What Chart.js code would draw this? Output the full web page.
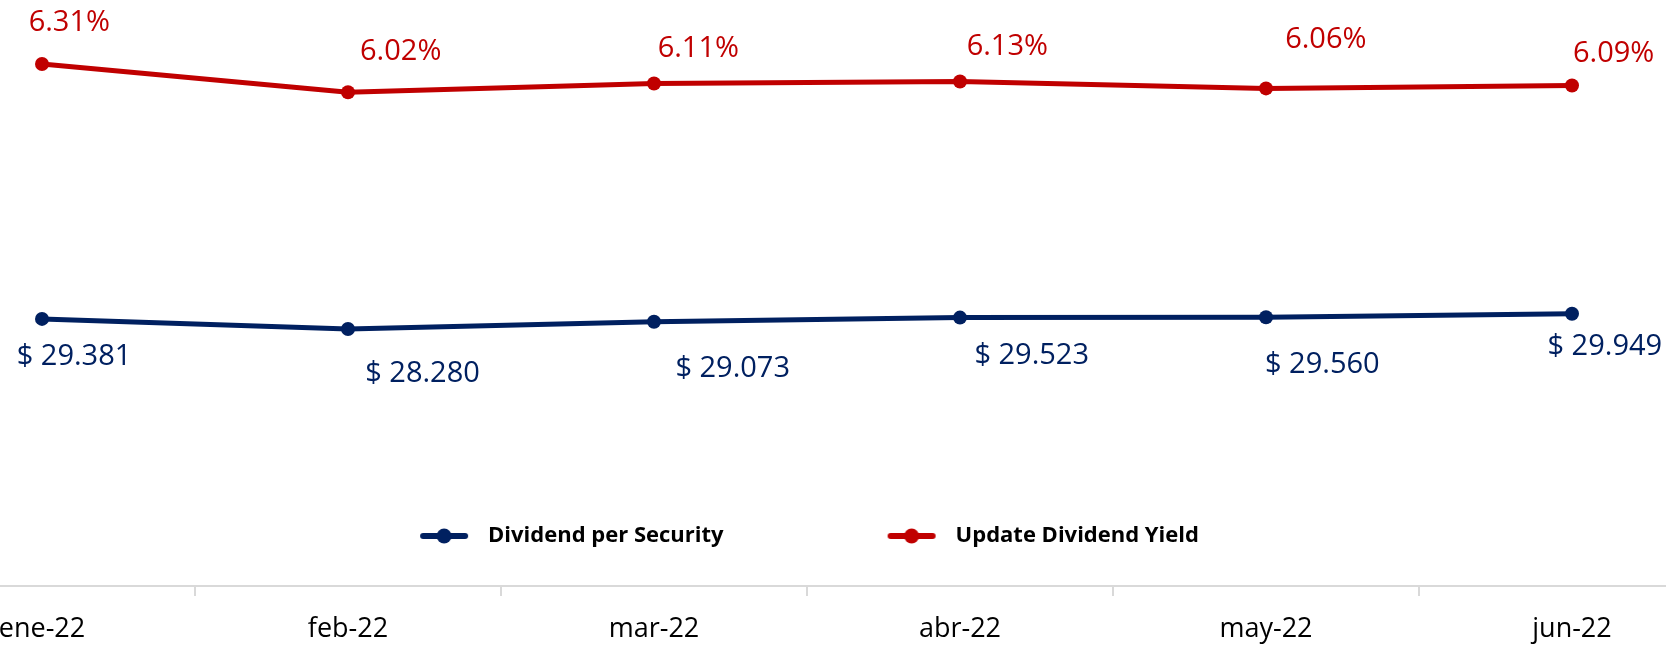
<!DOCTYPE html>
<html>
<head>
<meta charset="utf-8">
<script src="https://cdn.jsdelivr.net/npm/chart.js@4/dist/chart.umd.min.js"></script>
<style>
  html, body { margin: 0; padding: 0; background: #ffffff; overflow: hidden; width: 1666px; height: 646px; position: relative; }
  #c { position: absolute; left: -255px; top: 0; }
</style>
</head>
<body>
<canvas id="c" width="1980" height="646"></canvas>
<script>
// ---- data ----
const categories = ['ene-22', 'feb-22', 'mar-22', 'abr-22', 'may-22', 'jun-22'];
const dividendPerSecurity = [29381, 28280, 29073, 29523, 29560, 29949];
const updateDividendYield = [6.31, 6.02, 6.11, 6.13, 6.06, 6.09];
const seriesNames = ['Dividend per Security', 'Update Dividend Yield'];

// ---- styles ----
const BLUE = '#002060';
const RED = '#C00000';
const FONT = "'Open Sans', 'Noto Sans', sans-serif";
const LEGEND_BOX = 206;

function formatDividend(v) {
  return '$ ' + String(Math.round(v)).replace(/\B(?=(\d{3})+(?!\d))/g, '.');
}
function formatYield(v) {
  return v.toFixed(2) + '%';
}

function legendGlyph(color, w) {
  const c = document.createElement('canvas');
  c.width = w; c.height = 18;
  const g = c.getContext('2d');
  g.strokeStyle = color; g.lineWidth = 6; g.lineCap = 'round';
  g.beginPath(); g.moveTo(w - 54, 9); g.lineTo(w - 12, 9); g.stroke();
  g.fillStyle = color;
  g.beginPath(); g.arc(w - 33, 9, 7.5, 0, Math.PI * 2); g.fill();
  return c;
}
const legendGlyphs = [legendGlyph(BLUE, LEGEND_BOX), legendGlyph(RED, LEGEND_BOX)];

// value labels placed next to each point (offsets of label centre from the point, in px)
const pointLabels = {
  id: 'pointLabels',
  afterDatasetsDraw(chart, args, opts) {
    const ctx = chart.ctx;
    chart.data.datasets.forEach((ds, di) => {
      const meta = chart.getDatasetMeta(di);
      const cfg = opts.series[di];
      ctx.save();
      ctx.font = '29px ' + FONT;
      ctx.fillStyle = cfg.color;
      ctx.textAlign = 'center';
      ctx.textBaseline = 'alphabetic';
      meta.data.forEach((el, i) => {
        const off = cfg.offsets[i];
        ctx.fillText(cfg.format(ds.data[i]), el.x + off[0], el.y + off[1] + 10.4);
      });
      ctx.restore();
    });
  }
};

new Chart(document.getElementById('c'), {
  type: 'line',
  data: {
    labels: categories,
    datasets: [
      {
        label: seriesNames[0], data: dividendPerSecurity, yAxisID: 'y',
        borderColor: BLUE, backgroundColor: BLUE, borderWidth: 5,
        pointRadius: 7, pointHoverRadius: 7, pointBorderWidth: 0, pointBackgroundColor: BLUE,
        tension: 0, fill: false, clip: false
      },
      {
        label: seriesNames[1], data: updateDividendYield, yAxisID: 'y1',
        borderColor: RED, backgroundColor: RED, borderWidth: 5,
        pointRadius: 7, pointHoverRadius: 7, pointBorderWidth: 0, pointBackgroundColor: RED,
        tension: 0, fill: false, clip: false
      }
    ]
  },
  options: {
    responsive: false,
    animation: false,
    devicePixelRatio: 1,
    events: [],
    layout: { autoPadding: false, padding: 0 },
    scales: {
      x: {
        type: 'category', position: 'bottom', offset: true, weight: 0,
        grid: { display: true, offset: true, drawOnChartArea: false, drawTicks: true, tickLength: 10, color: '#d9d9d9', lineWidth: 2 },
        border: { display: true, color: '#d9d9d9', width: 2 },
        ticks: { color: '#000000', font: { family: FONT, size: 27, lineHeight: 1.2 }, padding: 17, maxRotation: 0, autoSkip: false },
        afterFit(s) { s.height = 60; }
      },
      gap: {
        type: 'category', position: 'bottom', weight: -1,
        grid: { display: false }, border: { display: false }, ticks: { display: false },
        afterFit(s) { s.height = 29; }
      },
      y: {
        type: 'linear', position: 'left', min: 8542, max: 64158,
        grid: { display: false }, border: { display: false }, ticks: { display: false },
        afterFit(s) { s.width = 144; }
      },
      y1: {
        type: 'linear', position: 'right', display: false, min: 1.7403, max: 6.9657
      }
    },
    plugins: {
      legend: {
        position: 'bottom', weight: -2, align: 'center',
        labels: {
          usePointStyle: true, pointStyleWidth: LEGEND_BOX, padding: 15,
          color: '#000000', font: { family: FONT, size: 22, weight: 'bold' },
          generateLabels(chart) {
            const items = Chart.defaults.plugins.legend.labels.generateLabels(chart);
            return items.map(it => Object.assign(it, { pointStyle: legendGlyphs[it.datasetIndex], fontColor: '#000000' }));
          }
        }
      },
      tooltip: { enabled: false },
      pointLabels: {
        series: [
          { color: BLUE, format: formatDividend, offsets: [[32, 35.5], [74.5, 43], [78.7, 45.3], [71.7, 36.4], [56.3, 45.1], [32.8, 31]] },
          { color: RED, format: formatYield, offsets: [[27.3, -43], [52.7, -42.3], [44.3, -37], [47.3, -37], [59.8, -50.5], [41.6, -34.1]] }
        ]
      }
    }
  },
  plugins: [pointLabels]
});
</script>
</body>
</html>
